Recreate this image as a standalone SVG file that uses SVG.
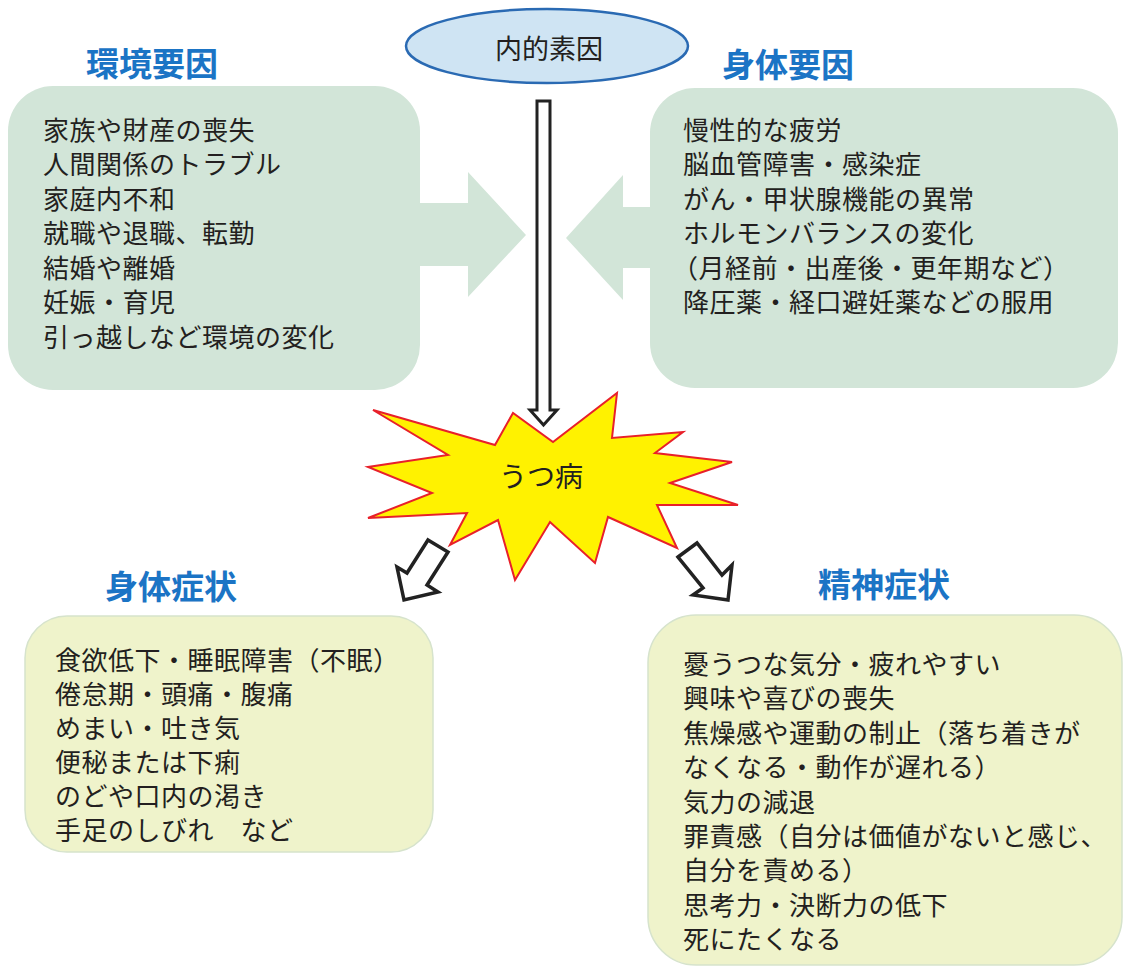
<svg xmlns="http://www.w3.org/2000/svg" width="1127" height="968" viewBox="0 0 1127 968">
<style>
.t{font-family:"Noto Sans CJK JP","Noto Sans CJK SC",sans-serif;fill:#231f20;font-size:26px;letter-spacing:0.5px;dominant-baseline:central}
.h{font-family:"Noto Sans CJK JP","Noto Sans CJK SC",sans-serif;fill:#1b74c5;font-size:33px;font-weight:700;dominant-baseline:central}
.mint{fill:#d2e5d8}
.cream{fill:#eff3cb;stroke:#d6e3cc;stroke-width:1.5}
.out{fill:#ffffff;stroke:#222222;stroke-width:3.5;stroke-linejoin:miter}
</style>
<rect width="1127" height="968" fill="#ffffff"/>

<g id="naiteki">
<ellipse cx="547" cy="46" rx="141" ry="37" fill="#cfe4f3" stroke="#2a6ab3" stroke-width="2.5"/>
<text class="t" x="549" y="47" text-anchor="middle" style="font-size:27px;letter-spacing:0">内的素因</text>
</g>

<g id="kankyo">
<text class="h" x="86" y="62">環境要因</text>
<rect class="mint" x="8" y="86" width="412" height="304" rx="45"/>
<polygon class="mint" points="410,203 468,203 468,172 526,235 468,297 468,266 410,266"/>
<text class="t" x="43" y="128">家族や財産の喪失</text>
<text class="t" x="43" y="162.5">人間関係のトラブル</text>
<text class="t" x="43" y="197">家庭内不和</text>
<text class="t" x="43" y="231.5">就職や退職、転勤</text>
<text class="t" x="43" y="266">結婚や離婚</text>
<text class="t" x="43" y="300.5">妊娠・育児</text>
<text class="t" x="43" y="335">引っ越しなど環境の変化</text>
</g>

<g id="shintai-youin">
<text class="h" x="722" y="63">身体要因</text>
<rect class="mint" x="650" y="88" width="468" height="300" rx="45"/>
<polygon class="mint" points="660,207 623,207 623,175 566,238 623,300 623,268 660,268"/>
<text class="t" x="683" y="128">慢性的な疲労</text>
<text class="t" x="683" y="162.5">脳血管障害・感染症</text>
<text class="t" x="683" y="197">がん・甲状腺機能の異常</text>
<text class="t" x="683" y="231.5">ホルモンバランスの変化</text>
<text class="t" x="672" y="266">（月経前・出産後・更年期など）</text>
<text class="t" x="683" y="300.5">降圧薬・経口避妊薬などの服用</text>
</g>

<g id="utsu">
<polygon points="373,410 495,445 513,413 553,442 617,393 612,438 683,432 655,453 732,462 670,483 738,505 657,505 677,548 608,517 595,563 550,522 515,580 498,520 450,545 467,513 368,518 432,493 368,467 448,455" fill="#fff200" stroke="#e8202a" stroke-width="2" stroke-linejoin="miter"/>
<text class="t" x="541" y="475" text-anchor="middle" style="font-size:28px;letter-spacing:0">うつ病</text>
</g>

<g id="connectors">
<polygon class="out" points="537,101 550,101 550,410 557,410 543.5,425 530,410 537,410" style="stroke-width:3"/>
<polygon class="out" points="428,540 448,552 427,585 438,592 404,600 397,567 407,573"/>
<polygon class="out" points="678,557 697,543 722,575 732,565 728,600 693,595 703,588"/>
</g>

<g id="shintai-shojo">
<text class="h" x="105" y="585">身体症状</text>
<rect class="cream" x="25" y="616" width="408" height="236" rx="42"/>
<text class="t" x="55" y="658">食欲低下・睡眠障害（不眠）</text>
<text class="t" x="55" y="692">倦怠期・頭痛・腹痛</text>
<text class="t" x="55" y="726">めまい・吐き気</text>
<text class="t" x="55" y="760">便秘または下痢</text>
<text class="t" x="55" y="794">のどや口内の渇き</text>
<text class="t" x="55" y="828">手足のしびれ　など</text>
</g>

<g id="seishin-shojo">
<text class="h" x="818" y="583">精神症状</text>
<rect class="cream" x="648" y="615" width="474" height="350" rx="48"/>
<text class="t" x="683" y="662">憂うつな気分・疲れやすい</text>
<text class="t" x="683" y="696.5">興味や喜びの喪失</text>
<text class="t" x="683" y="731">焦燥感や運動の制止（落ち着きが</text>
<text class="t" x="683" y="765.5">なくなる・動作が遅れる）</text>
<text class="t" x="683" y="800">気力の減退</text>
<text class="t" x="683" y="834">罪責感（自分は価値がないと感じ、</text>
<text class="t" x="683" y="868.5">自分を責める）</text>
<text class="t" x="683" y="903">思考力・決断力の低下</text>
<text class="t" x="683" y="937.5">死にたくなる</text>
</g>
</svg>
